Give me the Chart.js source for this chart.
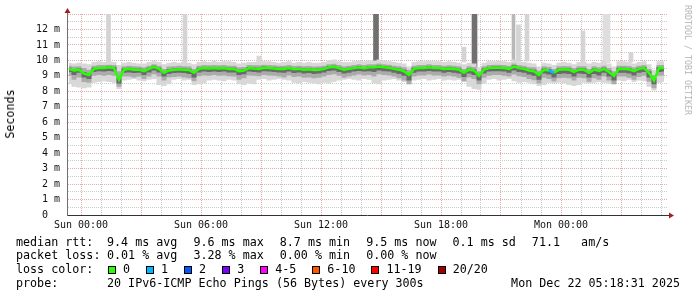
<!DOCTYPE html>
<html>
<head>
<meta charset="utf-8">
<script src="https://cdn.jsdelivr.net/npm/chart.js"></script>
<style>
  html, body { margin: 0; padding: 0; background: #fff; }
  #wrap { position: relative; width: 697px; height: 297px; overflow: hidden;
          font-family: 'DejaVu Sans Mono', monospace; color: #000; }
  #chartBox { position: absolute; left: 0; top: 0; width: 697px; height: 297px; }
  .row { position: absolute; font-size: 11.7px; line-height: 14px; white-space: pre; }
  .vals span { margin-right: 16px; }
  .swatch { display: inline-block; width: 6px; height: 6px; border: 1px solid #000;
            margin-right: 7px; vertical-align: -1px; }
  .lossItem { margin-right: 16px; }
  .vtext { position: absolute; white-space: pre; transform: translate(-50%, -50%) rotate(-90deg); }
</style>
</head>
<body>
<div id="wrap">
  <div id="chartBox"><canvas id="smoke"></canvas></div>

  <div class="vtext" style="left:10px;top:114px;font-size:11.7px;">Seconds</div>
  <div class="vtext" style="left:688px;top:60px;font-size:8.3px;color:#b4b4b4;transform:translate(-50%,-50%) rotate(90deg);">RRDTOOL / TOBI OETIKER</div>

  <div class="row" style="left:16px;top:235px;">median rtt:</div>
  <div class="row vals" id="rttRow" style="left:107px;top:235px;"></div>
  <div class="row" style="left:16px;top:248px;">packet loss:</div>
  <div class="row vals" id="lossRow" style="left:107px;top:248px;"></div>
  <div class="row" style="left:16px;top:262px;">loss color:</div>
  <div class="row" id="lossLegend" style="left:108px;top:262px;"></div>
  <div class="row" style="left:16px;top:276px;">probe:</div>
  <div class="row" id="probeRow" style="left:107px;top:276px;"></div>
  <div class="row" id="stampRow" style="right:17px;top:276px;"></div>
</div>

<script>
// ─── TIME GRID (hours relative to Sun 00:00, 15 min samples) ───────────
const sampleStart = -0.6;
const sampleStep = 0.25;
const xTickLabels = ['Sun 00:00', 'Sun 06:00', 'Sun 12:00', 'Sun 18:00', 'Mon 00:00'];

// ─── MEDIAN RTT (ms) ─────────────────────────────────────────
const median = [
  9.45, 9.35, 9.4, 9.15, 9.05, 9.45, 9.5, 9.5, 9.55, 9.5, 8.75, 9.4, 9.45, 9.4, 9.4, 9.3, 9.45, 9.58, 9.45, 9.2,
  9.35, 9.4, 9.42, 9.4, 9.38, 9.2, 9.45, 9.5, 9.48, 9.5, 9.47, 9.5, 9.45, 9.45, 9.3, 9.35, 9.5, 9.48, 9.45, 9.52,
  9.5, 9.47, 9.45, 9.45, 9.5, 9.42, 9.45, 9.4, 9.42, 9.38, 9.4, 9.45, 9.55, 9.58, 9.5, 9.4, 9.45, 9.5, 9.55, 9.5,
  9.55, 9.55, 9.6, 9.55, 9.52, 9.45, 9.4, 9.3, 9.05, 9.45, 9.5, 9.5, 9.55, 9.5, 9.5, 9.45, 9.48, 9.45, 9.4, 9.2,
  9.4, 9.35, 9.0, 9.4, 9.5, 9.52, 9.52, 9.5, 9.45, 9.6, 9.5, 9.45, 9.35, 9.3, 9.05, 9.4, 9.35, 9.2, 9.4, 9.42,
  9.4, 9.25, 9.4, 9.4, 9.2, 9.4, 9.32, 9.45, 9.25, 9.0, 9.45, 9.45, 9.42, 9.3, 9.45, 9.5, 9.2, 8.7, 9.5, 9.5
];

// lost pings (of 20) per sample
const loss = [
  0,0,0,0,0,0,0,0,0,0,0,0,0,0,0,0,0,0,0,0,
  0,0,0,0,0,0,0,0,0,0,0,0,0,0,0,0,0,0,0,0,
  0,0,0,0,0,0,0,0,0,0,0,0,0,0,0,0,0,0,0,0,
  0,0,0,0,0,0,0,0,0,0,0,0,0,0,0,0,0,0,0,0,
  0,0,0,0,0,0,0,0,0,0,0,0,0,0,0,0,0,1,0,0,
  0,0,0,0,0,0,0,0,0,0,0,0,0,0,0,0,0,0,0,0
];

// ─── SMOKE (ping distribution, ms) ───────────────────────────
const smokeMax = [
  9.85, 9.8, 9.85, 9.8, 9.75, 9.9, 9.95, 9.9, 9.95, 9.9, 9.7, 9.85, 9.9, 9.85, 9.8, 9.8, 9.9, 10.0, 9.9, 9.75,
  9.85, 9.9, 9.85, 9.9, 9.85, 9.75, 9.9, 9.95, 9.9, 10.0, 9.9, 9.95, 9.95, 9.9, 9.8, 9.85, 9.9, 9.9, 10.3, 9.95,
  9.95, 9.9, 9.85, 9.9, 9.95, 9.85, 9.9, 9.85, 9.9, 9.85, 9.85, 9.9, 10.0, 10.05, 9.95, 9.9, 9.9, 9.95, 10.0, 9.95,
  10.0, 10.0, 10.05, 10.0, 9.95, 9.9, 9.85, 9.8, 9.6, 9.9, 9.95, 9.95, 10.0, 9.95, 9.95, 9.9, 9.95, 9.9, 9.85, 9.75,
  9.85, 9.8, 9.55, 9.85, 9.95, 9.95, 10.0, 9.95, 9.9, 10.05, 9.95, 9.9, 9.85, 9.8, 9.6, 9.85, 9.8, 9.7, 9.85, 9.9,
  9.85, 9.75, 9.9, 9.9, 9.8, 9.9, 9.85, 10.0, 9.8, 9.6, 9.95, 9.95, 9.9, 9.8, 9.9, 9.95, 9.75, 9.4, 9.95, 9.95
];
const smokeP90 = [
  9.65, 9.6, 9.62, 9.5, 9.4, 9.65, 9.7, 9.7, 9.72, 9.7, 9.3, 9.62, 9.65, 9.62, 9.6, 9.55, 9.65, 9.75, 9.65, 9.45,
  9.6, 9.62, 9.65, 9.62, 9.6, 9.45, 9.65, 9.7, 9.68, 9.7, 9.68, 9.7, 9.66, 9.65, 9.55, 9.58, 9.7, 9.68, 9.68, 9.72,
  9.7, 9.68, 9.65, 9.66, 9.7, 9.63, 9.65, 9.62, 9.63, 9.6, 9.62, 9.66, 9.75, 9.78, 9.7, 9.62, 9.66, 9.7, 9.75, 9.7,
  9.75, 9.75, 9.8, 9.75, 9.72, 9.66, 9.62, 9.55, 9.4, 9.66, 9.7, 9.7, 9.75, 9.7, 9.7, 9.66, 9.68, 9.66, 9.62, 9.45,
  9.62, 9.58, 9.3, 9.62, 9.7, 9.72, 9.72, 9.7, 9.66, 9.8, 9.7, 9.66, 9.58, 9.55, 9.35, 9.62, 9.58, 9.45, 9.62, 9.64,
  9.62, 9.5, 9.62, 9.62, 9.45, 9.62, 9.56, 9.66, 9.5, 9.3, 9.66, 9.66, 9.64, 9.55, 9.66, 9.7, 9.45, 9.05, 9.7, 9.7
];
const smokeP70 = [
  9.53, 9.44, 9.48, 9.25, 9.15, 9.53, 9.58, 9.58, 9.62, 9.58, 8.9, 9.48, 9.53, 9.48, 9.48, 9.4, 9.53, 9.65, 9.53, 9.3,
  9.43, 9.48, 9.5, 9.48, 9.46, 9.3, 9.53, 9.58, 9.56, 9.58, 9.55, 9.58, 9.53, 9.53, 9.4, 9.43, 9.58, 9.56, 9.53, 9.6,
  9.58, 9.55, 9.53, 9.53, 9.58, 9.5, 9.53, 9.48, 9.5, 9.46, 9.48, 9.53, 9.63, 9.66, 9.58, 9.48, 9.53, 9.58, 9.63, 9.58,
  9.63, 9.63, 9.68, 9.63, 9.6, 9.53, 9.48, 9.4, 9.18, 9.53, 9.58, 9.58, 9.63, 9.58, 9.58, 9.53, 9.56, 9.53, 9.48, 9.3,
  9.48, 9.43, 9.12, 9.48, 9.58, 9.6, 9.6, 9.58, 9.53, 9.68, 9.58, 9.53, 9.43, 9.4, 9.16, 9.48, 9.43, 9.3, 9.48, 9.5,
  9.48, 9.35, 9.48, 9.48, 9.3, 9.48, 9.4, 9.53, 9.35, 9.12, 9.53, 9.53, 9.5, 9.4, 9.53, 9.58, 9.3, 8.85, 9.58, 9.58
];
const smokeP30 = [
  9.25, 9.05, 9.2, 8.9, 8.8, 9.25, 9.3, 9.28, 9.32, 9.28, 8.5, 9.2, 9.22, 9.18, 9.2, 9.05, 9.22, 9.35, 9.22, 8.95,
  9.12, 9.18, 9.2, 9.18, 9.12, 8.9, 9.22, 9.28, 9.25, 9.28, 9.25, 9.28, 9.22, 9.22, 9.05, 9.1, 9.28, 9.25, 9.22, 9.3,
  9.28, 9.25, 9.22, 9.2, 9.28, 9.18, 9.22, 9.15, 9.18, 9.12, 9.15, 9.22, 9.32, 9.35, 9.25, 9.15, 9.2, 9.28, 9.32, 9.28,
  9.3, 9.25, 9.35, 9.3, 9.28, 9.2, 9.12, 9.0, 8.7, 9.2, 9.28, 9.28, 9.32, 9.28, 9.28, 9.2, 9.25, 9.2, 9.15, 8.92,
  9.15, 9.05, 8.7, 9.15, 9.28, 9.3, 9.3, 9.28, 9.2, 9.35, 9.25, 9.2, 9.08, 9.0, 8.75, 9.15, 9.08, 8.9, 9.12, 9.15,
  9.12, 8.95, 9.15, 9.12, 8.9, 9.12, 9.02, 9.2, 8.95, 8.7, 9.2, 9.2, 9.15, 9.02, 9.2, 9.25, 8.9, 8.45, 9.25, 9.28
];
const smokeP10 = [
  9.0, 8.75, 8.9, 8.6, 8.55, 9.0, 9.05, 9.0, 9.05, 9.0, 8.3, 8.95, 8.95, 8.9, 8.95, 8.8, 8.95, 9.1, 8.95, 8.7,
  8.9, 8.92, 8.95, 8.9, 8.85, 8.65, 8.98, 9.02, 9.0, 9.05, 9.0, 9.02, 8.98, 8.95, 8.75, 8.85, 9.02, 9.0, 8.98, 9.05,
  9.02, 9.0, 8.95, 8.9, 9.02, 8.92, 8.95, 8.88, 8.9, 8.85, 8.88, 8.95, 9.05, 9.1, 9.0, 8.88, 8.95, 9.02, 9.08, 9.02,
  9.05, 8.95, 9.1, 9.05, 9.02, 8.95, 8.85, 8.7, 8.45, 8.95, 9.02, 9.02, 9.08, 9.02, 9.02, 8.95, 9.0, 8.95, 8.88, 8.65,
  8.9, 8.8, 8.45, 8.88, 9.0, 9.05, 9.05, 9.0, 8.95, 9.08, 8.98, 8.92, 8.8, 8.72, 8.5, 8.88, 8.8, 8.65, 8.85, 8.88,
  8.85, 8.7, 8.88, 8.85, 8.62, 8.85, 8.75, 8.95, 8.7, 8.45, 8.95, 8.95, 8.88, 8.75, 8.92, 9.0, 8.62, 8.2, 9.0, 9.02
];
const smokeMin = [
  8.45, 8.3, 8.25, 8.2, 8.25, 8.55, 8.6, 8.65, 8.6, 8.55, 8.15, 8.7, 8.75, 8.8, 8.7, 8.65, 8.75, 8.8, 8.4, 8.35,
  8.45, 8.75, 8.8, 8.7, 8.75, 8.4, 8.45, 8.5, 8.7, 8.75, 8.7, 8.65, 8.75, 8.7, 8.45, 8.4, 8.5, 8.45, 8.75, 8.8,
  8.7, 8.75, 8.8, 8.75, 8.7, 8.55, 8.5, 8.6, 8.55, 8.5, 8.45, 8.55, 8.5, 8.6, 8.7, 8.75, 8.8, 8.75, 8.7, 8.8,
  8.75, 8.5, 8.45, 8.7, 8.75, 8.8, 8.7, 8.6, 8.45, 8.7, 8.75, 8.8, 8.7, 8.75, 8.8, 8.7, 8.75, 8.7, 8.75, 8.6,
  8.3, 8.15, 8.1, 8.5, 8.75, 8.8, 8.7, 8.75, 8.8, 8.65, 8.55, 8.6, 8.55, 8.45, 8.35, 8.4, 8.55, 8.5, 8.55, 8.5,
  8.4, 8.35, 8.4, 8.55, 8.5, 8.55, 8.6, 8.55, 8.5, 8.45, 8.7, 8.65, 8.75, 8.6, 8.7, 8.65, 8.3, 8.05, 8.55, 8.6
];

// ─── OUTLIER SPIKES (hours, ms low, ms high) ─────────────────
const spikeLightHours = [1.375, 5.2, 19.15, 21.875, 22.3, 25.1, 27.5];
const spikeLightLow   = [9.9, 9.9, 9.9, 9.95, 9.95, 9.9, 9.9];
const spikeLightHigh  = [13.1, 13.1, 10.85, 12.3, 13.1, 11.9, 10.5];
const spikeWideHours  = [26.275];
const spikeWideLow    = [9.85];
const spikeWideHigh   = [13.1];
const spikeMidHours   = [21.625];
const spikeMidLow     = [9.8];
const spikeMidHigh    = [13.1];
const spikeDarkHours  = [14.75, 19.675];
const spikeDarkLow    = [9.6, 9.5];
const spikeDarkHigh   = [13.1, 13.1];

// ─── LEGEND TEXT ─────────────────────────────────────────────
const rttStats  = ['9.4 ms avg', '9.6 ms max', '8.7 ms min', '9.5 ms now', '0.1 ms sd', '71.1   am/s'];
const lossStats = ['0.01 % avg', '3.28 % max', '0.00 % min', '0.00 % now'];
const lossLabels = ['0', '1', '2', '3', '4-5', '6-10', '11-19', '20/20'];
const lossColors = ['#26ff00', '#00b8ff', '#0059ff', '#7e00ff', '#ff00ff', '#ff5500', '#ff0000', '#a10000'];
const probeText = '20 IPv6-ICMP Echo Pings (56 Bytes) every 300s';
const stampText = 'Mon Dec 22 05:18:31 2025';

const MONO = "'DejaVu Sans Mono', monospace";

function lossColor(n) {
    if (n <= 3) return lossColors[n];
    if (n <= 5) return lossColors[4];
    if (n <= 10) return lossColors[5];
    if (n <= 19) return lossColors[6];
    return lossColors[7];
}

const series = arr => arr.map((v, i) => ({ x: sampleStart + i * sampleStep, y: v }));
const spikes = (hours, low, high) => hours.map((h, i) => ({ x: h, y: [low[i], high[i]] }));

function band(arr, fill, color) {
    return {
        data: series(arr), fill: fill, backgroundColor: color,
        borderColor: 'transparent', borderWidth: 1, pointRadius: 0,
        stepped: 'middle', tension: 0
    };
}

function spikeSet(hours, low, high, color, thickness) {
    return {
        type: 'bar', data: spikes(hours, low, high), backgroundColor: color,
        borderWidth: 0, barThickness: thickness, grouped: false
    };
}

// ─── AXIS ARROWS ─────────────────────────────────────────────
const axisArrows = {
    id: 'axisArrows',
    afterDraw(chart) {
        const { ctx, chartArea: a } = chart;
        ctx.save();
        ctx.strokeStyle = '#707070';
        ctx.lineWidth = 1;
        ctx.beginPath();
        ctx.moveTo(a.left + 0.5, a.top);
        ctx.lineTo(a.left + 0.5, a.top - 4);
        ctx.stroke();
        ctx.strokeStyle = '#333';
        ctx.beginPath();
        ctx.moveTo(a.right, a.bottom + 0.5);
        ctx.lineTo(a.right + 3, a.bottom + 0.5);
        ctx.stroke();
        ctx.fillStyle = '#a02020';
        ctx.beginPath();
        ctx.moveTo(a.left + 0.5, a.top - 6);
        ctx.lineTo(a.left - 2.5, a.top - 1);
        ctx.lineTo(a.left + 3.5, a.top - 1);
        ctx.closePath();
        ctx.fill();
        ctx.beginPath();
        ctx.moveTo(a.right + 7, a.bottom + 0.5);
        ctx.lineTo(a.right + 2, a.bottom - 2.5);
        ctx.lineTo(a.right + 2, a.bottom + 3.5);
        ctx.closePath();
        ctx.fill();
        ctx.restore();
    }
};

// ─── CHART ───────────────────────────────────────────────────
new Chart(document.getElementById('smoke'), {
    type: 'line',
    data: {
        datasets: [
            {
                data: series(median), borderWidth: 2.5, pointRadius: 0, fill: false, tension: 0,
                borderColor: lossColors[0],
                segment: { borderColor: c => lossColor(loss[c.p1DataIndex]) }
            },
            band(smokeP70, '+1', '#6a6a6a'),
            band(smokeP30, false, 'transparent'),
            band(smokeP90, '+1', '#ababab'),
            band(smokeP10, false, 'transparent'),
            band(smokeMax, '+1', '#d8d8d8'),
            band(smokeMin, false, 'transparent'),
            spikeSet(spikeDarkHours, spikeDarkLow, spikeDarkHigh, '#707070', 5),
            spikeSet(spikeMidHours, spikeMidLow, spikeMidHigh, '#b8b8b8', 3),
            spikeSet(spikeLightHours, spikeLightLow, spikeLightHigh, '#d4d4d4', 4),
            spikeSet(spikeWideHours, spikeWideLow, spikeWideHigh, '#dedede', 7)
        ]
    },
    options: {
        responsive: true,
        maintainAspectRatio: false,
        animation: false,
        devicePixelRatio: 1,
        layout: { padding: { top: 14, right: 30, left: 0, bottom: 0 } },
        plugins: { legend: { display: false }, tooltip: { enabled: false } },
        scales: {
            x: {
                type: 'linear', min: -0.7, max: 29.3, offset: false,
                afterFit: s => { s.height = 82; },
                afterBuildTicks: s => {
                    const hourly = [];
                    for (let h = Math.ceil(s.min); h <= Math.floor(s.max); h++) hourly.push({ value: h });
                    s.ticks = hourly;
                },
                ticks: {
                    autoSkip: false, maxRotation: 0, padding: 4,
                    color: '#111', font: { family: MONO, size: 10 },
                    callback: v => (v % 6 === 0 && v >= 0) ? xTickLabels[v / 6] : ''
                },
                grid: {
                    drawTicks: false, offset: false, lineWidth: 1,
                    color: c => c.tick && c.tick.value % 3 === 0 ? '#e6aaaa' : '#cccccc'
                },
                border: { display: true, color: '#333', width: 1, dash: [1, 1] }
            },
            y: {
                min: 0, max: 13,
                afterFit: s => { s.width = 67; },
                ticks: {
                    stepSize: 0.5, autoSkip: false, padding: 7,
                    color: '#111', font: { family: MONO, size: 10 },
                    callback: v => (Number.isInteger(v) && v < 13) ? (v === 0 ? '0  ' : v + ' m') : ''
                },
                grid: {
                    drawTicks: false, lineWidth: 1,
                    color: c => c.tick && Number.isInteger(c.tick.value) ? '#e6aaaa' : '#cccccc'
                },
                border: { display: true, color: '#707070', width: 1, dash: [1, 1] }
            }
        }
    },
    plugins: [axisArrows]
});

// ─── LEGEND ROWS ─────────────────────────────────────────────
document.getElementById('rttRow').innerHTML = rttStats.map(s => `<span>${s}</span>`).join('');
document.getElementById('lossRow').innerHTML = lossStats.map(s => `<span>${s}</span>`).join('');
document.getElementById('lossLegend').innerHTML = lossLabels.map((l, i) =>
    `<span class="swatch" style="background:${lossColors[i]}"></span><span class="lossItem">${l}</span>`).join('');
document.getElementById('probeRow').textContent = probeText;
document.getElementById('stampRow').textContent = stampText;
</script>
</body>
</html>
